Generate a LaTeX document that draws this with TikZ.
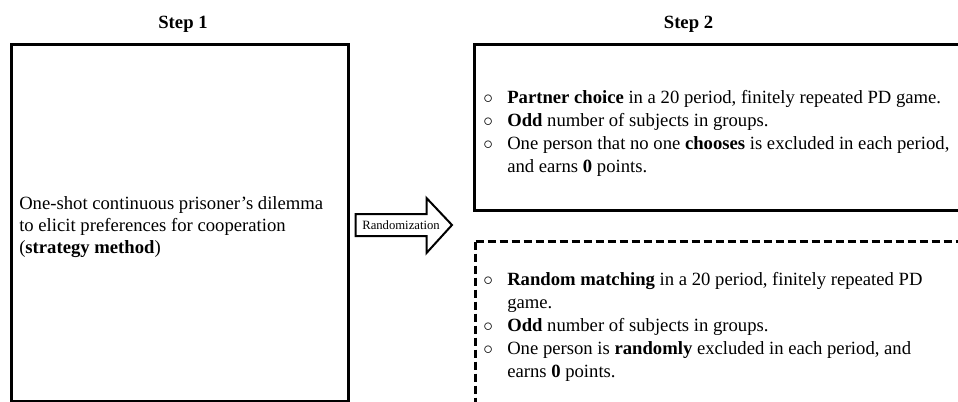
\documentclass[tikz,border=0pt]{standalone}
\usepackage{fontspec}
\setmainfont{Liberation Serif}
\usepackage{array}
\begin{document}
\begin{tikzpicture}[x=0.75pt,y=-0.75pt,
  box/.style={draw=black,line width=2.25pt},
  dashbox/.style={draw=black,line width=2.25pt,dash pattern=on 6pt off 3pt},
  steplabel/.style={font=\fontsize{14}{17}\selectfont\bfseries,inner sep=0pt,anchor=base},
  bodytext/.style={inner sep=0pt,anchor=base west,align=left},
  randarrow/.style={draw=black,line width=1.5pt,line join=miter,fill=white}
]
\useasboundingbox (0,0) rectangle (958,401);
\clip (0,0) rectangle (958,401);
\fill[white] (0,0) rectangle (958,401);

% boxes
\draw[box] (11.5,44.5) rectangle (348.5,401.5);
\draw[box] (474.5,44.5) rectangle (965,210.5);
\draw[dashbox] (475.5,241.5) -- (965,241.5);
\draw[dashbox] (475.5,241.5) -- (475.5,410);
\coordinate (dtl) at (475.5,241.5);

% step labels
\node[steplabel] (s1) at (183,28) {Step 1};
\node[steplabel] (s2) at (688.5,28) {Step 2};

% left box text
\node[bodytext] (lefttext) at (19,209) {\fontsize{14}{16.5}\selectfont
\begin{tabular}[t]{@{}l@{}}
One-shot continuous prisoner’s dilemma\\
to elicit preferences for cooperation\\
(\textbf{strategy method})
\end{tabular}};

% arrow
\draw[randarrow] (355.5,214) -- (426.5,214) -- (426.5,198) -- (452,225)
  -- (426.5,253) -- (426.5,236) -- (355.5,236) -- cycle;
\node[inner sep=0pt,font=\fontsize{9.5}{11}\selectfont] (rand) at (401,225) {Randomization};

% right solid box text
\node[bodytext] (parttext) at (483,103) {\fontsize{14}{17.25}\selectfont
\begin{tabular}[t]{@{}p{18pt}@{}l@{}}
$\circ$ & \textbf{Partner choice} in a 20 period, finitely repeated PD game.\\
$\circ$ & \textbf{Odd} number of subjects in groups.\\
$\circ$ & One person that no one \textbf{chooses} is excluded in each period,\\
 & and earns \textbf{0} points.
\end{tabular}};

% dashed box text
\node[bodytext] (randtext) at (483,285) {\fontsize{14}{17.25}\selectfont
\begin{tabular}[t]{@{}p{18pt}@{}l@{}}
$\circ$ & \textbf{Random matching} in a 20 period, finitely repeated PD\\
 & game.\\
$\circ$ & \textbf{Odd} number of subjects in groups.\\
$\circ$ & One person is \textbf{randomly} excluded in each period, and\\
 & earns \textbf{0} points.
\end{tabular}};
\end{tikzpicture}
\end{document}
